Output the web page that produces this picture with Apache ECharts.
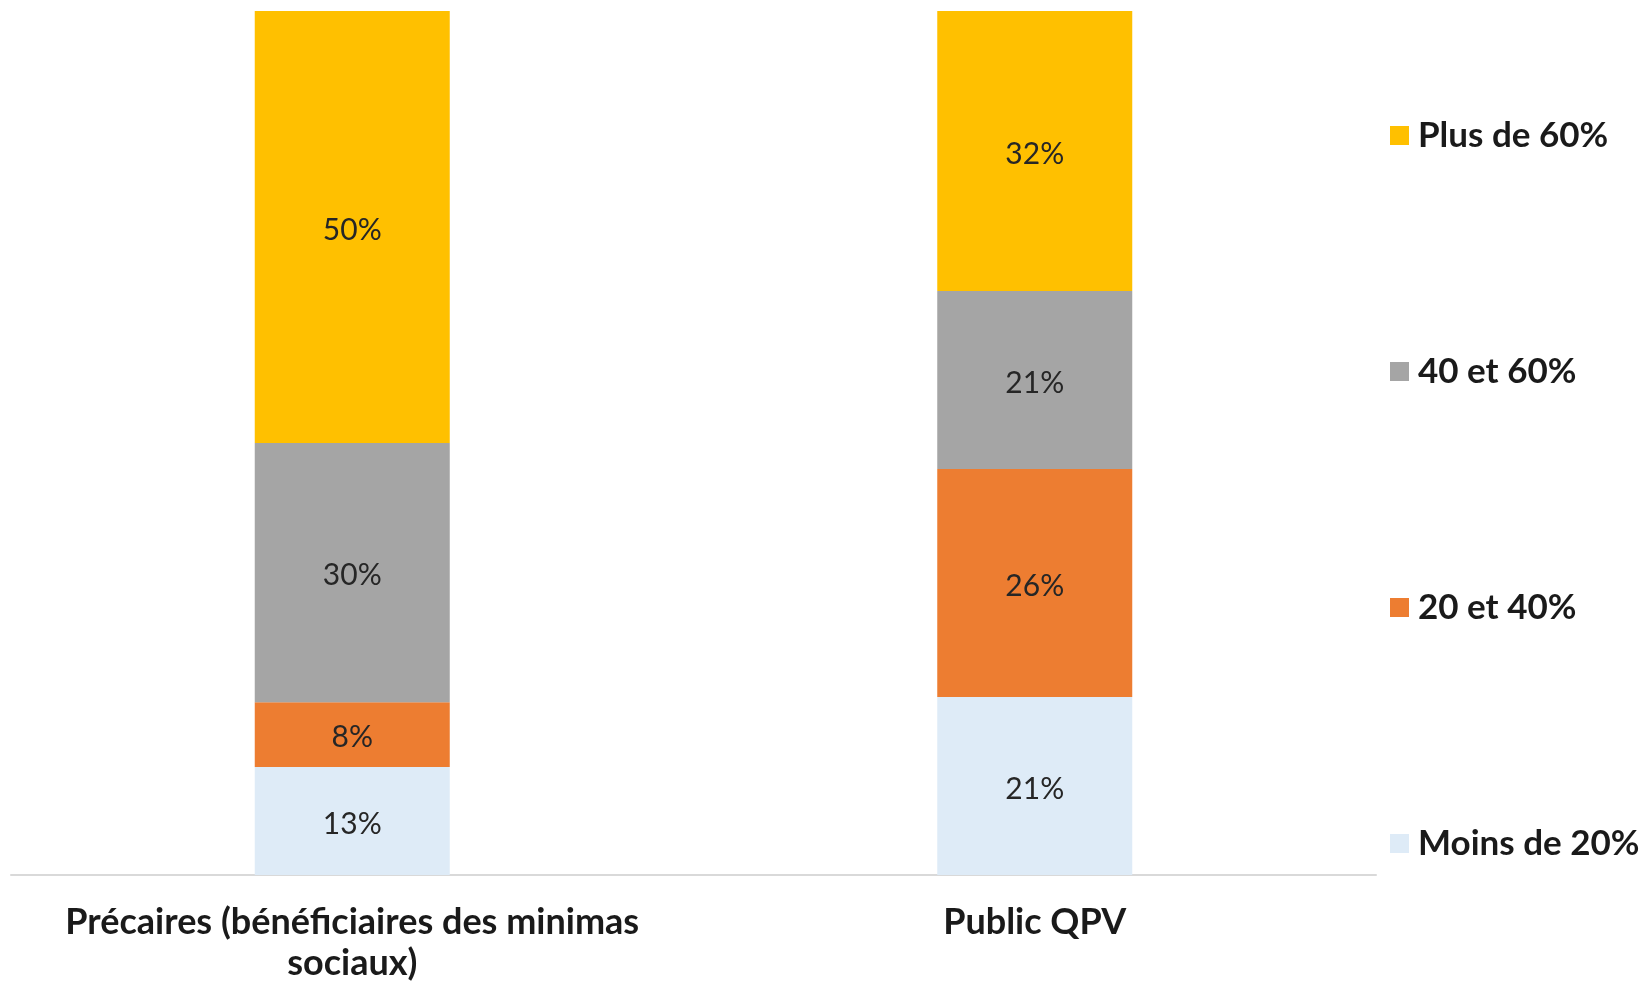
<!DOCTYPE html>
<html>
<head>
<meta charset="utf-8">
<script src="https://cdn.jsdelivr.net/npm/echarts@6/dist/echarts.min.js"></script>
<style>
html,body{margin:0;padding:0;background:#fff;}
#chart{width:1644px;height:984px;}
</style>
</head>
<body>
<div id="chart"></div>
<script>
const categories = ['Précaires (bénéficiaires des minimas\nsociaux)', 'Public QPV'];
const seriesNames = ['Moins de 20%', '20 et 40%', '40 et 60%', 'Plus de 60%'];
const moins20 = [12.5, 20.6];
const de20a40 = [7.5, 26.4];
const de40a60 = [30.0, 20.6];
const plus60 = [50.0, 32.4];
const colors = ['#DEEBF7', '#ED7D31', '#A5A5A5', '#FFC000'];

const values = [moins20, de20a40, de40a60, plus60];

const chart = echarts.init(document.getElementById('chart'));
chart.setOption({
  animation: false,
  grid: { left: 11, right: 268, top: 11, bottom: 103, containLabel: false },
  legend: {
    orient: 'vertical',
    left: 1390,
    top: 118,
    padding: 0,
    itemWidth: 19,
    itemHeight: 19,
    itemGap: 201,
    icon: 'rect',
    data: seriesNames.slice().reverse(),
    textStyle: { fontFamily: 'Lato', fontWeight: 'bold', fontSize: 35, color: '#1a1a1a', lineHeight: 30, padding: [0, 0, 0, 4] }
  },
  xAxis: {
    type: 'category',
    data: categories,
    axisLine: { show: true, lineStyle: { color: '#D9D9D9', width: 2 } },
    axisTick: { show: false },
    axisLabel: { interval: 0, fontFamily: 'Lato', fontWeight: 'bold', fontSize: 36, color: '#1a1a1a', lineHeight: 41, margin: 27 }
  },
  yAxis: { type: 'value', min: 0, max: 100, show: false, splitLine: { show: false } },
  series: seriesNames.map((name, i) => ({
    name: name,
    type: 'bar',
    stack: 'total',
    barWidth: 195,
    data: values[i],
    itemStyle: { color: colors[i] },
    label: {
      show: true,
      position: 'inside',
      offset: [0, 3],
      formatter: p => Math.round(p.value) + '%',
      fontFamily: 'Lato',
      fontSize: 30,
      color: '#262626'
    }
  }))
});
</script>
</body>
</html>
